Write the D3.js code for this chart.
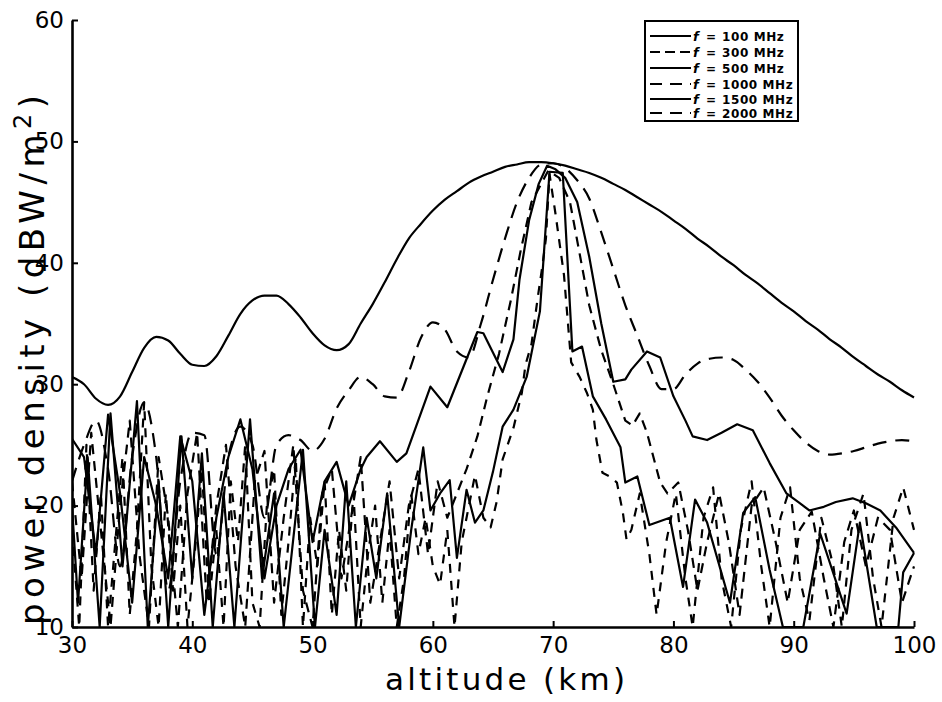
<!DOCTYPE html>
<html><head><meta charset="utf-8">
<script src="https://cdn.jsdelivr.net/npm/d3@7"></script>
<style>body{margin:0;background:#fff}</style>
</head><body><svg id="c" width="942" height="702"></svg>
<script>
// ---------- data ----------
const xTicks = [30, 40, 50, 60, 70, 80, 90, 100];
const yTicks = [10, 20, 30, 40, 50, 60];
const freqLabels = ["100 MHz", "300 MHz", "500 MHz", "1000 MHz", "1500 MHz", "2000 MHz"];

const alt100 = [30,31,32,33,34,35,36,37,38,39,40,41,42,43,44,45,46,47,48,49,50,51,52,53,54,55,56,57,58,59,60,61,62,63,64,65,66,67,68,69,70,71,72,73,74,75,76,77,78,79,80,81,82,83,84,85,86,87,88,89,90,91,92,93,94,95,96,97,98,99,100];
const pow100 = [30.6,30.0,28.8,28.3,29.0,31.0,33.0,33.9,33.6,32.5,31.6,31.5,32.3,34.0,35.8,36.9,37.3,37.3,36.6,35.5,34.2,33.2,32.8,33.3,35.0,36.6,38.4,40.3,42.0,43.2,44.3,45.2,45.9,46.6,47.1,47.5,47.9,48.1,48.3,48.3,48.2,48.0,47.7,47.4,47.0,46.5,46.0,45.4,44.8,44.2,43.5,42.8,42.0,41.3,40.5,39.8,39.0,38.3,37.5,36.7,36.0,35.2,34.5,33.7,33.0,32.2,31.5,30.8,30.2,29.5,28.9];

const alt300 = [30,31,32,33,34,35,36,37,38,39,40,41,42,43,44,45,46,47,48,49,50,51,52,53,54,55,56,57,58,59,60,61,62,63,64,65,66,67,68,69,70,71,72,73,74,75,76,77,78,79,80,81,82,83,84,85,86,87,88,89,90,91,92,93,94,95,96,97,98,99,100];
const pow300 = [22,25,27,23,15,24,28.5,24,13,22,26,25.8,16,24,26.5,25,19,25,25.8,25.4,24.5,25.5,28,29.5,30.6,30,29,28.9,31,33.8,35.1,34.5,32.7,32.2,35,38.6,42,45,47,48.1,48.2,47.8,46.8,45.3,42.5,39.5,36.5,34,31.5,29.6,29.6,30.8,31.7,32.1,32.2,32.0,31.2,30.2,28.9,27.4,26.2,25.2,24.5,24.2,24.3,24.5,24.8,25.1,25.3,25.4,25.3];

const alt500 = [30,31,32,33,34,35,36,37,38,39,40,41,42,43,44,45,46,47,48,49,50,51,52,53,54,54.5,55.6,57,57.8,59.8,61.2,63.7,64.2,65.8,66.7,67.2,68,68.8,69.5,70.2,71,72,73,74,75,76,76.5,77.8,78.9,80,81,81.6,82.8,84,85.3,86.6,88,89.4,90.5,91.3,92.5,93.5,94.9,96,97.2,98.5,100];
const pow500 = [25.5,24,16,27.5,21,12,24,20,14,25.7,22,11,19,24,27.1,23,14,20,23,24.6,17,22,23.6,20,23,24,25.3,23.6,24.3,29.8,28.1,34.3,34.2,31.0,33.7,38.6,43.5,46.5,48,47.7,47,45,40.5,35,30.2,30.4,31.2,32.7,32.2,29,27,25.7,25.4,26,26.7,26.2,23.5,21,20.2,19.6,19.9,20.3,20.6,20.2,19.6,18.2,16.1];

const alt1000 = [30,30.8,31.6,32.4,33.2,34,34.8,35.6,36.4,37.2,38,38.8,39.6,40.4,41.2,42,42.8,43.6,44.4,45.2,46,46.8,47.6,48.4,49.2,50,50.8,51.6,52.4,53.2,54,54.8,55.6,56.4,57.2,58,58.8,59.6,60.4,61.2,62,62.8,63.7,64.5,65.5,66.5,67.3,68.2,69.6,70.5,71.4,72.1,73,74,75,76,76.6,77.2,77.8,78.9,79.5,80.4,81.2,82,82.8,83.8,84.6,85.5,86.5,87.5,88.5,89.5,90.5,91.5,92.5,93.3,94.2,95,96,97,98,99,100];
const pow1000 = [22,14,26,18,10,20,27,16,10,24,19,10,21,26,12,20,25,15,10,22,24.5,12,19,25,13,10,21,23,14,19,24,12,17,22,14,20,23,16,22,19,21,23,25.7,28.9,32.5,37,41,45,47.6,47,45,41.3,36.5,32.8,30,27,26.6,27.6,26,21.9,21,21.9,18,13,17,21,17,11,20,21.5,17,12,18,19.5,14,10,17,19.6,15,19,18,12,15];

const alt1500 = [30,30.5,31.3,32.3,33.2,34.2,35.4,36.3,37.2,38,39.1,40,40.8,41.7,42.6,43.5,44.8,45.8,46.8,47.6,49.2,50.2,51,52,52.8,53.6,54.5,55.3,56.2,57.2,58.2,59.2,59.8,60.6,61.4,62,62.8,63.5,64.2,65,65.8,66.7,67.8,68.9,69.7,70.8,71.6,72.4,73.3,74.4,75.6,76,77,78,79.7,80.8,81.8,82.8,84.7,85.8,86.8,88,89.1,90.8,92.2,94.4,95.5,96.9,98.7,99.1,100];
const pow1500 = [20,12,24,10,27.6,15,28.6,10,22,10,25.7,14,24.3,10,21,10,27.1,14,21,10,24.6,10,18,11,22,10,19,14,21,10,18,24.8,19.6,21.0,22.1,15.7,21.3,18.6,19.6,22.8,26.5,27.9,30.6,36,47.5,47.4,32.7,33.1,29,27.1,24.8,21.9,22.4,18.4,19,13.3,20.5,18.6,12,19.4,20.7,14.7,10,10,17.7,11.1,18.6,10,10,14.5,16.1];

const alt2000 = [30,30.6,31.2,31.8,32.4,33,33.6,34.2,34.8,35.4,36,36.6,37.2,37.8,38.4,39,39.6,40.2,40.8,41.4,42,42.6,43.2,43.8,44.4,45,45.6,46.2,46.8,47.4,48,48.6,49.2,49.8,50.4,51,51.6,52.2,52.8,53.4,54,54.6,55.2,55.8,56.4,57,57.6,58.2,58.8,59.4,60,60.6,61.2,61.8,62.4,63,63.5,64.2,64.8,65.3,65.8,66.7,67.4,67.7,68.2,68.7,69.1,69.4,69.7,70.2,70.9,71.5,72.2,72.8,73.3,73.6,74.1,74.7,75.3,75.8,76.1,76.5,77.2,78,78.6,79.4,80.2,81,81.6,82.5,83.3,84,84.8,85.6,86.5,87.3,88,88.9,89.7,90.5,91.3,92.3,93.3,94,94.8,95.8,96.6,97.3,98.3,99.1,100];
const pow2000 = [18,10,25,13,21,10,17,24,11,18,28.5,15,10,21,13,20,10,16,23,12,18,10,22,17,25,12,10,20,23,11,17,24,10,19,15,22,11,18,13,21,10,16,20,12,18,10,14,21,16,19,15,13.5,18,10,17,20,22.5,19,18.2,20.3,23.8,26.4,29.3,31.6,33.3,37,39.7,42,47.3,44,39,31.8,30.6,29.3,27.9,25.4,22.7,22.4,21.9,19.4,17.2,18,21,16,11,17,21,14,10,19,21.5,14,10,18,22,15,10,19,21.5,14,10.5,19,15,10,18,21,14,10,19,21.5,18];

// ---------- layout ----------
const svg = d3.select("#c");
const x = d3.scaleLinear().domain([30, 100]).range([72, 914]);
const y = d3.scaleLinear().domain([10, 60]).range([627, 20]);

svg.append("defs").append("clipPath").attr("id", "clip")
  .append("rect").attr("x", 72).attr("y", 18).attr("width", 844).attr("height", 609);

const series = [
  {alt: alt100, pow: pow100, dash: null, curve: d3.curveMonotoneX},
  {alt: alt300, pow: pow300, dash: "14,9", curve: d3.curveMonotoneX},
  {alt: alt500, pow: pow500, dash: null, curve: d3.curveLinear},
  {alt: alt1000, pow: pow1000, dash: "10,7", curve: d3.curveLinear},
  {alt: alt1500, pow: pow1500, dash: null, curve: d3.curveLinear},
  {alt: alt2000, pow: pow2000, dash: "9,8", curve: d3.curveLinear}
];

const g = svg.append("g").attr("clip-path", "url(#clip)");
series.forEach(s => {
  const pts = s.alt.map((a, i) => [a, s.pow[i]]);
  const line = d3.line().x(d => x(d[0])).y(d => y(d[1])).curve(s.curve);
  g.append("path").attr("d", line(pts))
    .attr("fill", "none").attr("stroke", "#000").attr("stroke-width", 2.2)
    .attr("stroke-linejoin", "round")
    .attr("stroke-dasharray", s.dash);
});

// axes
const font = "'DejaVu Sans', sans-serif";
const xAxis = svg.append("g").attr("transform", "translate(0,627)")
  .call(d3.axisBottom(x).tickValues(xTicks).tickSize(-6).tickSizeOuter(0).tickPadding(10));
const yAxis = svg.append("g").attr("transform", "translate(72,0)")
  .call(d3.axisLeft(y).tickValues(yTicks).tickSize(-6).tickSizeOuter(0).tickPadding(8));
[xAxis, yAxis].forEach(a => {
  a.select(".domain").attr("stroke", "#000").attr("stroke-width", 2.6);
  a.selectAll(".tick line").attr("stroke", "#000").attr("stroke-width", 2);
  a.selectAll(".tick text").attr("fill", "#000").style("font-family", font).style("font-size", "23px");
});

// axis titles
svg.append("text").attr("x", 505).attr("y", 690).attr("text-anchor", "middle")
  .style("font-family", font).style("font-size", "31px")
  .attr("textLength", 240).attr("lengthAdjust", "spacing")
  .text("altitude (km)");

const yl = svg.append("text").attr("transform", "translate(44,360) rotate(-90)")
  .attr("text-anchor", "middle")
  .style("font-family", font).style("font-size", "34px")
  .attr("textLength", 530).attr("lengthAdjust", "spacing");
yl.append("tspan").text("power density (dBW/m");
yl.append("tspan").attr("dy", -13).style("font-size", "24px").text("2");
yl.append("tspan").attr("dy", 13).text(")");

// legend
const lg = svg.append("g");
lg.append("rect").attr("x", 645).attr("y", 21).attr("width", 153).attr("height", 100)
  .attr("fill", "#fff").attr("stroke", "#000").attr("stroke-width", 2);
const rowY = [36, 52, 68, 84, 99, 113];
freqLabels.forEach((lab, i) => {
  const ry = rowY[i];
  lg.append("line").attr("x1", 650).attr("x2", 691).attr("y1", ry).attr("y2", ry)
    .attr("stroke", "#000").attr("stroke-width", 1.8)
    .attr("stroke-dasharray", series[i].dash ? (i === 1 ? "10,5" : "12,8") : null);
  lg.append("text").attr("x", 693).attr("y", ry + 5).text("f")
    .style("font-family", font).style("font-size", "13px").style("font-style", "italic").style("font-weight", "bold");
  lg.append("text").attr("x", 706).attr("y", ry + 5).text("=")
    .style("font-family", font).style("font-size", "12px").style("font-weight", "bold");
  lg.append("text").attr("x", 722).attr("y", ry + 5).text(lab)
    .style("font-family", font).style("font-size", "12px").style("font-weight", "bold")
    .style("letter-spacing", "0.6px");
});
</script>
</body></html>
